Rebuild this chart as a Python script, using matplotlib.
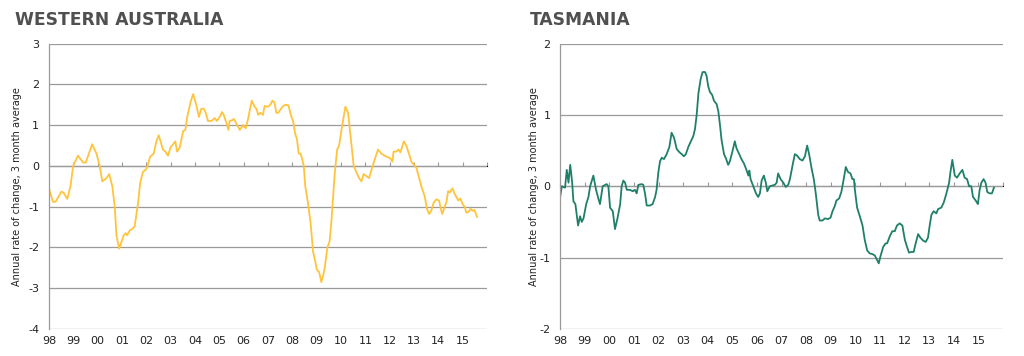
import matplotlib
matplotlib.use("Agg")
from matplotlib import pyplot as plt

# Western Australia: (decimal year, annual rate of change, 3 month average)
wa_years = [1998.00, 1998.16, 1998.27, 1998.51, 1998.60, 1998.75, 1998.88, 1998.99, 1999.19, 1999.40,
            1999.51, 1999.77, 1999.95, 2000.08, 2000.19, 2000.36, 2000.47, 2000.60, 2000.70, 2000.77,
            2000.88, 2001.07, 2001.15, 2001.21, 2001.32, 2001.42, 2001.52, 2001.66, 2001.75, 2001.86,
            2002.00, 2002.16, 2002.30, 2002.41, 2002.51, 2002.68, 2002.78, 2002.89, 2002.99, 2003.12,
            2003.19, 2003.26, 2003.37, 2003.51, 2003.60, 2003.68, 2003.81, 2003.92, 2004.05, 2004.16,
            2004.26, 2004.36, 2004.44, 2004.53, 2004.67, 2004.81, 2004.90, 2005.01, 2005.11, 2005.18,
            2005.32, 2005.37, 2005.42, 2005.53, 2005.60, 2005.73, 2005.84, 2005.97, 2006.08, 2006.18,
            2006.33, 2006.45, 2006.52, 2006.60, 2006.68, 2006.79, 2006.86, 2007.00, 2007.10, 2007.18,
            2007.27, 2007.34, 2007.42, 2007.59, 2007.71, 2007.84, 2007.96, 2008.03, 2008.11, 2008.19,
            2008.26, 2008.34, 2008.41, 2008.47, 2008.53, 2008.64, 2008.75, 2008.85, 2008.96, 2009.01,
            2009.10, 2009.19, 2009.26, 2009.33, 2009.44, 2009.53, 2009.60, 2009.67, 2009.74, 2009.84,
            2009.92, 2010.05, 2010.18, 2010.29, 2010.38, 2010.52, 2010.63, 2010.74, 2010.84, 2010.93,
            2011.04, 2011.15, 2011.25, 2011.38, 2011.52, 2011.66, 2011.79, 2011.97, 2012.03, 2012.11,
            2012.16, 2012.27, 2012.36, 2012.44, 2012.58, 2012.68, 2012.79, 2012.89, 2013.03, 2013.10,
            2013.21, 2013.30, 2013.44, 2013.53, 2013.62, 2013.71, 2013.81, 2013.92, 2014.03, 2014.10,
            2014.16, 2014.26, 2014.33, 2014.40, 2014.47, 2014.58, 2014.68, 2014.82, 2014.90, 2015.01,
            2015.08, 2015.15, 2015.26, 2015.32, 2015.40, 2015.48, 2015.59]
wa_values = [-0.56, -0.88, -0.88, -0.63, -0.66, -0.81, -0.50, 0.00, 0.25, 0.08,
             0.08, 0.53, 0.30, 0.00, -0.38, -0.30, -0.20, -0.50, -1.00, -1.70,
             -2.03, -1.70, -1.65, -1.70, -1.58, -1.55, -1.48, -0.90, -0.40, -0.15,
             -0.08, 0.23, 0.30, 0.60, 0.75, 0.40, 0.35, 0.25, 0.45, 0.55,
             0.60, 0.35, 0.45, 0.85, 0.88, 1.20, 1.55, 1.76, 1.50, 1.20,
             1.40, 1.40, 1.30, 1.10, 1.10, 1.17, 1.10, 1.20, 1.32, 1.25,
             1.00, 0.88, 1.10, 1.12, 1.15, 1.00, 0.88, 1.00, 0.92, 1.15,
             1.60, 1.45, 1.40, 1.25, 1.30, 1.25, 1.47, 1.45, 1.50, 1.60,
             1.55, 1.30, 1.30, 1.45, 1.50, 1.48, 1.20, 1.10, 0.80, 0.65,
             0.30, 0.30, 0.15, 0.00, -0.50, -0.90, -1.40, -2.10, -2.40, -2.55,
             -2.60, -2.85, -2.70, -2.50, -2.00, -1.85, -1.40, -0.80, -0.20, 0.40,
             0.50, 1.00, 1.45, 1.30, 0.80, 0.00, -0.15, -0.30, -0.38, -0.20,
             -0.25, -0.30, -0.10, 0.15, 0.40, 0.30, 0.25, 0.20, 0.18, 0.10,
             0.35, 0.35, 0.40, 0.33, 0.60, 0.50, 0.30, 0.10, 0.00, -0.05,
             -0.30, -0.50, -0.75, -1.05, -1.18, -1.10, -0.90, -0.82, -0.85, -1.05,
             -1.18, -1.00, -0.90, -0.62, -0.65, -0.55, -0.70, -0.85, -0.80, -0.95,
             -1.00, -1.15, -1.12, -1.05, -1.10, -1.08, -1.25]

# Tasmania
tas_years = [1998.00, 1998.07, 1998.20, 1998.27, 1998.34, 1998.41, 1998.49, 1998.54, 1998.62, 1998.73,
             1998.81, 1998.88, 1998.95, 1999.06, 1999.15, 1999.22, 1999.35, 1999.46, 1999.56, 1999.62,
             1999.73, 1999.89, 1999.96, 2000.03, 2000.14, 2000.23, 2000.33, 2000.44, 2000.50, 2000.57,
             2000.64, 2000.71, 2000.84, 2000.95, 2001.04, 2001.11, 2001.18, 2001.32, 2001.38, 2001.45,
             2001.52, 2001.65, 2001.76, 2001.86, 2001.92, 2001.99, 2002.06, 2002.13, 2002.22, 2002.33,
             2002.44, 2002.53, 2002.63, 2002.74, 2002.84, 2002.94, 2003.03, 2003.11, 2003.21, 2003.30,
             2003.41, 2003.48, 2003.55, 2003.62, 2003.71, 2003.79, 2003.89, 2003.95, 2004.02, 2004.09,
             2004.18, 2004.25, 2004.36, 2004.43, 2004.50, 2004.56, 2004.66, 2004.74, 2004.83, 2004.90,
             2005.01, 2005.10, 2005.17, 2005.28, 2005.37, 2005.47, 2005.55, 2005.65, 2005.69, 2005.74,
             2005.85, 2005.96, 2006.05, 2006.12, 2006.19, 2006.28, 2006.36, 2006.42, 2006.52, 2006.73,
             2006.80, 2006.86, 2006.96, 2007.07, 2007.17, 2007.27, 2007.34, 2007.45, 2007.54, 2007.63,
             2007.74, 2007.85, 2007.95, 2008.04, 2008.12, 2008.22, 2008.31, 2008.39, 2008.49, 2008.55,
             2008.66, 2008.76, 2008.89, 2008.99, 2009.07, 2009.16, 2009.23, 2009.34, 2009.43, 2009.50,
             2009.61, 2009.70, 2009.80, 2009.88, 2009.94, 2009.98, 2010.07, 2010.18, 2010.29, 2010.38,
             2010.48, 2010.58, 2010.69, 2010.79, 2010.88, 2010.95, 2011.02, 2011.13, 2011.23, 2011.29,
             2011.40, 2011.50, 2011.60, 2011.69, 2011.80, 2011.91, 2012.01, 2012.10, 2012.18, 2012.28,
             2012.37, 2012.45, 2012.55, 2012.64, 2012.75, 2012.86, 2012.95, 2013.02, 2013.09, 2013.18,
             2013.29, 2013.36, 2013.49, 2013.59, 2013.70, 2013.81, 2013.86, 2013.94, 2014.04, 2014.13,
             2014.24, 2014.35, 2014.44, 2014.54, 2014.62, 2014.71, 2014.78, 2014.89, 2014.98, 2015.05,
             2015.12, 2015.21, 2015.29, 2015.36, 2015.46, 2015.55, 2015.63]
tas_values = [-0.15, 0.00, -0.02, 0.23, 0.05, 0.30, 0.05, -0.21, -0.25, -0.55,
              -0.42, -0.50, -0.45, -0.25, -0.15, 0.00, 0.15, -0.05, -0.18, -0.25,
              0.00, 0.03, 0.00, -0.30, -0.35, -0.60, -0.45, -0.25, 0.00, 0.08,
              0.05, -0.05, -0.05, -0.07, -0.05, -0.10, 0.02, 0.03, 0.02, -0.10,
              -0.27, -0.27, -0.25, -0.15, -0.05, 0.19, 0.35, 0.40, 0.38, 0.45,
              0.55, 0.75, 0.68, 0.52, 0.48, 0.45, 0.42, 0.45, 0.55, 0.62,
              0.70, 0.80, 1.00, 1.30, 1.50, 1.60, 1.60, 1.55, 1.40, 1.32,
              1.28, 1.20, 1.15, 1.05, 0.85, 0.65, 0.45, 0.39, 0.30, 0.35,
              0.50, 0.63, 0.53, 0.45, 0.38, 0.32, 0.25, 0.15, 0.22, 0.10,
              0.00, -0.10, -0.15, -0.10, 0.08, 0.15, 0.05, -0.07, 0.00, 0.02,
              0.05, 0.18, 0.10, 0.05, -0.01, 0.02, 0.10, 0.30, 0.45, 0.43,
              0.38, 0.36, 0.42, 0.57, 0.45, 0.25, 0.10, -0.10, -0.40, -0.48,
              -0.48, -0.45, -0.46, -0.44, -0.35, -0.28, -0.20, -0.17, -0.08, 0.05,
              0.27, 0.20, 0.18, 0.10, 0.10, -0.05, -0.30, -0.42, -0.55, -0.75,
              -0.90, -0.94, -0.95, -0.97, -1.03, -1.08, -0.98, -0.85, -0.80, -0.80,
              -0.70, -0.63, -0.63, -0.55, -0.52, -0.55, -0.75, -0.85, -0.93, -0.92,
              -0.92, -0.80, -0.67, -0.72, -0.76, -0.78, -0.72, -0.55, -0.40, -0.35,
              -0.38, -0.32, -0.30, -0.23, -0.10, 0.05, 0.19, 0.37, 0.15, 0.12,
              0.18, 0.23, 0.12, 0.10, 0.00, 0.00, -0.15, -0.20, -0.25, -0.05,
              0.05, 0.10, 0.05, -0.08, -0.10, -0.10, -0.02]

year_ticks = list(range(1998, 2016))
year_labels = [f"{y % 100:02d}" for y in year_ticks]

wa_yticks = [-4, -3, -2, -1, 0, 1, 2, 3]
tas_yticks = [-2, -1, 0, 1, 2]

GRID = "#9a9a9a"
TEXT = "#222222"
TITLE = "#505050"
YLABEL = "Annual rate of change, 3 month average"


def draw_panel(fig, rect, years, values, yticks, color, title, title_x, ylabel_x):
    ax = fig.add_axes(rect)
    ax.plot(years, values, color=color, lw=1.3, solid_joinstyle="round")
    ax.set_xlim(1998, 2016)
    ax.set_ylim(yticks[0], yticks[-1])
    ax.set_yticks(yticks)
    ax.set_yticklabels([str(t) for t in yticks], fontsize=8, color=TEXT)
    ax.yaxis.grid(True, color=GRID, lw=0.9)
    ax.set_axisbelow(True)
    ax.tick_params(axis="y", length=0, pad=7)

    # year labels sit under the plot, tick marks sit on the zero line
    ax.set_xticks(year_ticks)
    ax.set_xticklabels(year_labels, fontsize=8, color=TEXT)
    ax.tick_params(axis="x", length=0, pad=5)
    zero_frac = (0 - yticks[0]) / (yticks[-1] - yticks[0])
    sec = ax.secondary_xaxis(zero_frac)
    sec.set_xticks(year_ticks + [2016])
    sec.set_xticklabels([])
    sec.tick_params(axis="x", length=3, width=0.8, color=GRID, direction="out")
    sec.spines["bottom"].set_color(GRID)
    sec.spines["bottom"].set_linewidth(0.9)

    for side in ("top", "right", "bottom"):
        ax.spines[side].set_visible(False)
    ax.spines["left"].set_color(GRID)
    ax.spines["left"].set_linewidth(0.9)

    ax.set_ylabel(YLABEL, fontsize=7, color=TEXT)
    ax.yaxis.set_label_coords(ylabel_x, 0.5)
    fig.text(title_x, 0.944, title, fontsize=12.3, fontweight="bold", color=TITLE,
             ha="left", va="center")
    return ax


fig = plt.figure(figsize=(10.24, 3.56), dpi=100)
draw_panel(fig, [0.0479, 0.0758, 0.4277, 0.802], wa_years, wa_values, wa_yticks,
           "#FFC43C", "WESTERN AUSTRALIA", 0.0146, -0.061)
draw_panel(fig, [0.547, 0.0758, 0.4325, 0.802], tas_years, tas_values, tas_yticks,
           "#1F8068", "TASMANIA", 0.5176, -0.047)

fig.savefig("out.png", dpi=100)
